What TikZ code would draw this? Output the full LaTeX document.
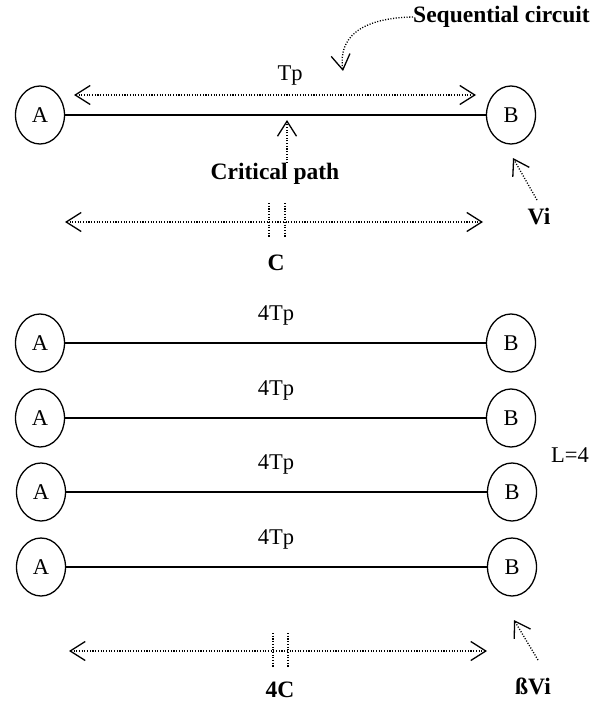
\documentclass[tikz,border=0pt]{standalone}
\usepackage{fontspec}
\setmainfont{Liberation Serif}
\usetikzlibrary{arrows.meta,shapes.geometric}
\tikzset{
  x=1pt,y=-1pt,
  txt/.style={font=\fontsize{22.5}{26}\selectfont,inner sep=0pt},
  btxt/.style={font=\fontsize{23.5}{27}\selectfont\bfseries,inner sep=0pt},
  circ/.style={draw,ellipse,line width=1.3pt,minimum width=49pt,minimum height=58pt,inner sep=0pt,font=\fontsize{22.5}{26}\selectfont},
  wire/.style={line width=2pt},
  dotln/.style={line width=1.3pt,dash pattern=on 1.1pt off 1.6pt},
  barb/.style={-{Straight Barb[length=15pt,width=19pt,line width=1.3pt]}},
  dbarb/.style={{Straight Barb[length=15pt,width=19pt,line width=1.3pt]}-{Straight Barb[length=15pt,width=19pt,line width=1.3pt]}},
}
\begin{document}
\begin{tikzpicture}
\useasboundingbox (0,0) rectangle (601,706);
% top
\node[circ] (A0) at (40,115) {A};
\node[circ] (B0) at (511,115) {B};
\draw[wire] (A0) -- (B0);
\node[txt] (tp) at (290,76) {Tp};
\coordinate (tpL) at (74,95);
\coordinate (tpR) at (476,95);
\draw[dotln,dbarb] (tpL) -- (tpR);
\node[btxt,anchor=west] (seq) at (413,17) {Sequential circuit};
\coordinate (seqTip) at (343,71);
\draw[dotln,barb] (seq.west) .. controls (360,18) and (338,38) .. (seqTip);
\node[btxt] (cp) at (275,174) {Critical path};
\coordinate (cpTip) at (287,120);
\coordinate (cpBase) at (287,163);
\draw[dotln,barb] (cpBase) -- (cpTip);
\node[btxt] (vi) at (539,217) {Vi};
\coordinate (viTip) at (513,158);
\coordinate (viBase) at (537,200);
\draw[dotln,barb] (viBase) -- (viTip);
\coordinate (cL) at (65,222);
\coordinate (cR) at (483,222);
\draw[dotln,dbarb] (cL) -- (cR);
\draw[dotln] (269,203) -- (269,238) (285,203) -- (285,238);
\node[btxt] (c) at (276,263) {C};
% lower rows
\foreach \i/\y/\xa/\xb in {1/343/40/511,2/418/40/511,3/492/41/512,4/567/41/512}{
  \node[circ] (A\i) at (\xa,\y) {A};
  \node[circ] (B\i) at (\xb,\y) {B};
  \draw[wire] (A\i) -- (B\i);
  \node[txt] (T\i) at (276,\y-28) {4Tp};
}
\node[txt] (L) at (570,455) {L=4};
\coordinate (fL) at (69,651);
\coordinate (fR) at (487,651);
\draw[dotln,dbarb] (fL) -- (fR);
\draw[dotln] (273,633) -- (273,668) (288,633) -- (288,668);
\node[btxt] (fc) at (280,690) {4C};
\node[btxt] (bvi) at (533,686) {ßVi};
\coordinate (bviTip) at (514,620);
\coordinate (bviBase) at (538,660);
\draw[dotln,barb] (bviBase) -- (bviTip);
\end{tikzpicture}
\end{document}
